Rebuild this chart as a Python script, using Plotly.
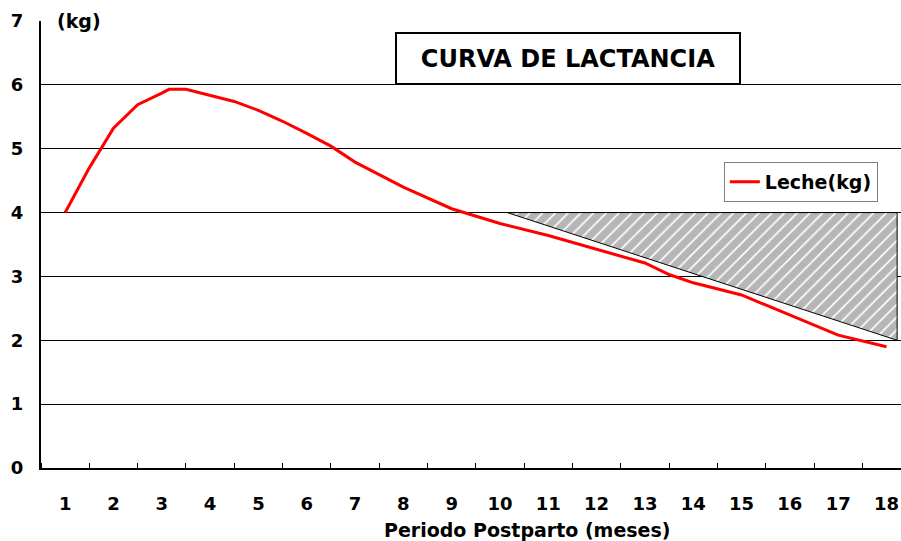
import plotly.graph_objects as go

# Data
months = [1, 1.5, 2, 2.5, 3, 3.15, 3.5, 4, 4.5, 5, 5.5, 6, 6.5, 7, 8, 9, 10, 11, 12, 13, 13.5, 14, 15, 16, 17, 18]
leche = [4.0, 4.7, 5.32, 5.69, 5.87, 5.93, 5.93, 5.84, 5.74, 5.60, 5.43, 5.24, 5.04, 4.79, 4.40, 4.06, 3.83, 3.64, 3.43, 3.21, 3.03, 2.90, 2.71, 2.40, 2.08, 1.90]
hatch_x = [10.15, 18.22, 18.22, 10.15]
hatch_y = [4.0, 4.0, 2.0, 4.0]
x_ticks = list(range(1, 19))
y_ticks = list(range(0, 8))

FONT = "DejaVu Sans, Liberation Sans, sans-serif"

fig = go.Figure()
fig.add_trace(go.Scatter(
    x=hatch_x, y=hatch_y, mode="lines", fill="toself",
    line=dict(color="black", width=1),
    fillcolor="white",
    fillpattern=dict(shape="/", fgcolor="#6e6e6e", bgcolor="white", size=9, solidity=0.82),
    showlegend=False, hoverinfo="skip"))
fig.add_trace(go.Scatter(
    x=months, y=leche, mode="lines", name="Leche(kg)",
    line=dict(color="#ff0000", width=3)))

fig.update_layout(
    width=901, height=541,
    margin=dict(l=41, r=0, t=21, b=73),
    paper_bgcolor="white", plot_bgcolor="white",
    font=dict(family=FONT, color="black", size=19, weight="bold"),
    showlegend=True,
    legend=dict(x=0.794, y=0.685, xanchor="left", yanchor="top",
                bordercolor="#808080", borderwidth=1, bgcolor="white",
                font=dict(family=FONT, size=19, weight="bold"),
                itemwidth=30, tracegroupgap=0),
    xaxis=dict(range=[0.5, 18.3], tickmode="array", tickvals=x_ticks,
               ticktext=[str(v) for v in x_ticks], ticks="", showgrid=False,
               showline=True, linecolor="black", linewidth=2, zeroline=False,
               ticklabelstandoff=18,
               tickfont=dict(family=FONT, size=18, weight="bold"),
               minor=dict(tick0=0.5, dtick=1, ticks="inside", ticklen=5,
                          tickcolor="black", tickwidth=1, showgrid=False)),
    yaxis=dict(range=[0, 7], tickmode="array", tickvals=y_ticks, ticks="inside",
               ticklen=6, tickcolor="black", showgrid=True, gridcolor="black",
               gridwidth=1, showline=True, linecolor="black", linewidth=2,
               zeroline=False, ticklabelstandoff=12,
               tickfont=dict(family=FONT, size=18, weight="bold")),
    annotations=[
        dict(text="CURVA DE LACTANCIA", xref="paper", yref="paper", x=0.613, y=0.916,
             xanchor="center", yanchor="middle", showarrow=False,
             font=dict(family=FONT, size=24, weight="bold"),
             bordercolor="black", borderwidth=2, borderpad=0, width=342, height=49,
             bgcolor="white"),
        dict(text="(kg)", xref="paper", yref="paper", x=0.044, y=1.0,
             xanchor="center", yanchor="middle", showarrow=False,
             font=dict(family=FONT, size=19, weight="bold"),
             bgcolor="white", borderpad=3),
        dict(text="Periodo Postparto (meses)", xref="paper", yref="paper", x=0.565, y=-0.139,
             xanchor="center", yanchor="middle", showarrow=False,
             font=dict(family=FONT, size=19, weight="bold")),
    ],
)

fig.write_html("out.html", config={"displayModeBar": False},
               post_script="document.body.style.margin='0';")
